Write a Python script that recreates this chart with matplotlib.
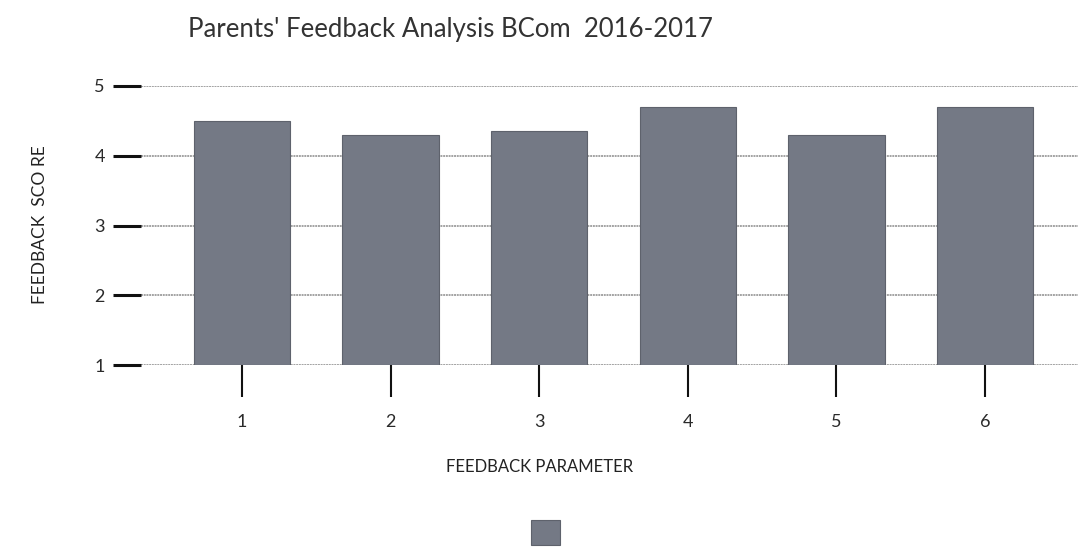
import matplotlib
matplotlib.use("Agg")
import matplotlib.pyplot as plt

categories = ["1", "2", "3", "4", "5", "6"]
scores = [4.5, 4.3, 4.35, 4.7, 4.3, 4.7]
yticks = [1, 2, 3, 4, 5]
title = "Parents' Feedback Analysis BCom  2016-2017"
xlabel = "FEEDBACK PARAMETER"
ylabel = "FEEDBACK  SCO RE"

plt.rcParams['font.family'] = ['Lato', 'DejaVu Sans']

fig = plt.figure(figsize=(10.78, 5.5), dpi=100)
ax = fig.add_axes([141/1078, 1-365/550, 1-141/1078, (365-86)/550])

x = list(range(1, len(categories)+1))
ax.bar(x, [s - 1 for s in scores], bottom=1, width=0.65, color='#747985',
       edgecolor='#5e626c', linewidth=0.8, zorder=3, label=' ')

ax.set_ylim(1, 5)
ax.set_xlim(1 - 101/148.6, 1 + (1078-242)/148.6)
ax.set_yticks(yticks)
ax.set_xticks(x)
ax.set_xticklabels(categories)
ax.grid(axis='y', color='#a3a3a3', linewidth=1.4, linestyle=(0, (1, 0.4)), zorder=0)
ax.set_axisbelow(True)
for s in ax.spines.values():
    s.set_visible(False)

ax.tick_params(axis='y', length=20, width=2.2, color='#111111', pad=6,
               labelsize=13, labelcolor='#2a2a2a')
ax.tick_params(axis='x', length=23, width=1.5, color='#111111', pad=12,
               labelsize=13, labelcolor='#2a2a2a')
for t in ax.yaxis.get_major_ticks():
    t.tick1line.set_clip_on(False)

fig.text(450/1078, 1-30/550, title, ha='center', va='center', fontsize=18.5,
         color='#333333')
fig.text(540/1078, 1-467/550, xlabel, ha='center', va='center', fontsize=12,
         color='#222222')
fig.text(40/1078, 1-225/550, ylabel, ha='center', va='center', fontsize=12.5,
         rotation=90, color='#222222')

fig.legend(loc='upper center', bbox_to_anchor=(548/1078, 1-520/550),
           frameon=False, handlelength=1.5, handleheight=1.6,
           handletextpad=0, fontsize=14, borderpad=0, borderaxespad=0)

fig.savefig("out.png", dpi=100)
